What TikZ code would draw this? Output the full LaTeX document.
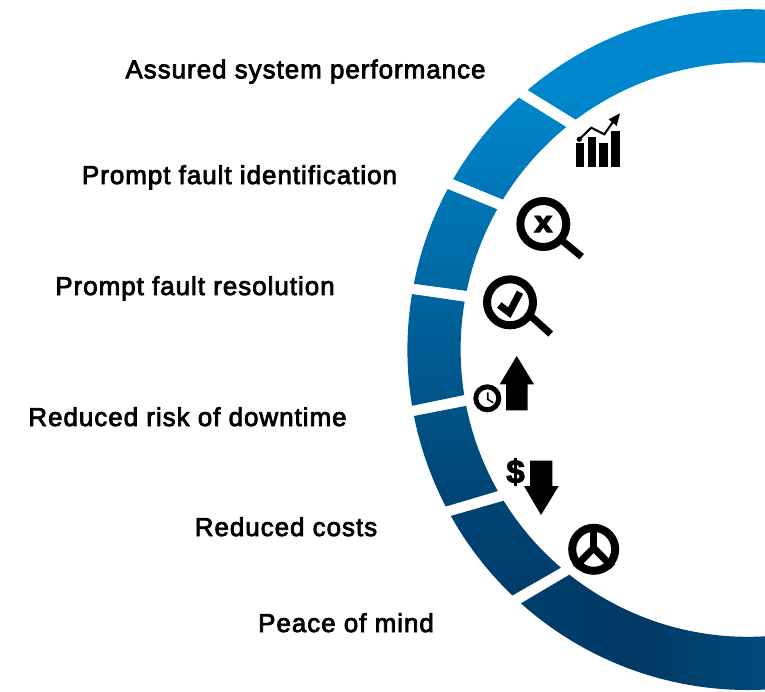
\documentclass[tikz,border=0pt]{standalone}
\usepackage{fontspec}
\setmainfont{Liberation Sans}
\newfontfamily\labfont[LetterSpace=3.9,RawFeature={embolden=3}]{Liberation Sans}
\newfontfamily\glyphfont[RawFeature={embolden=3}]{Liberation Sans Bold}
\newfontfamily\xfont[RawFeature={embolden=2}]{DejaVu Sans Bold}
\usetikzlibrary{calc}
\definecolor{cA}{HTML}{0088CF}
\definecolor{cB}{HTML}{0086CB}
\definecolor{cM}{HTML}{005C93}
\definecolor{cN}{HTML}{004475}
\definecolor{cD}{HTML}{00345F}
\definecolor{sL}{HTML}{003F6E}
\definecolor{sM}{HTML}{003864}
\definecolor{sR}{HTML}{004A7B}
\pgfdeclareverticalshading{ringshade}{100bp}{
  color(0bp)=(cD); color(25.8bp)=(cD); color(38.8bp)=(cN); color(49.7bp)=(cM); color(67.8bp)=(cB); color(75bp)=(cA); color(100bp)=(cA)}
\pgfdeclarehorizontalshading{lastshade}{100bp}{
  color(0bp)=(sL); color(25bp)=(sL); color(48bp)=(sM); color(75bp)=(sR); color(100bp)=(sR)}
\tikzset{
  lab/.style={font=\labfont\fontsize{25.9}{28}\selectfont, text=black, inner sep=0pt, anchor=base},
  inkline/.style={draw=black, line cap=butt, fill=none},
  inkfill/.style={fill=black, draw=none}
}
\newcommand{\ringseg}[4]{
  ($(747.8,349.6)+(-#1:340.4)$) arc[start angle=-#1, end angle=-#2, radius=340.4pt]
  -- ($(747.8,349.6)+(-#3:287.2)$) arc[start angle=-#3, end angle=-#4, radius=287.2pt] -- cycle
}
\begin{document}
\begin{tikzpicture}[x=1pt,y=1pt,yscale=-1]
\useasboundingbox (0,0) rectangle (765,691);
\begin{scope}
  \clip (0,0) rectangle (765,691);
  \begin{scope}
    \clip \ringseg{85}{130.3}{126.8}{85}
      \ringseg{132.25}{149.95}{148.5}{129.2}
      \ringseg{151.85}{168.85}{168.2}{150.75}
      \ringseg{170.6}{189.5}{189.1}{170.4}
      \ringseg{191.25}{207.45}{209.5}{191.3}
      \ringseg{209.25}{226.25}{229.4}{211.75};
    \shade[shading=ringshade] (300,0) rectangle (765,691);
  \end{scope}
  \begin{scope}
    \clip \ringseg{228.2}{275}{275}{231.6};
    \shade[shading=lastshade] (521,560) rectangle (765,691);
  \end{scope}
\end{scope}
% labels
\node[lab] (l1) at (305.5,78.3) {Assured system performance};
\node[lab] (l2) at (239.5,184) {Prompt fault identification};
\node[lab] (l3) at (195,295) {Prompt fault resolution};
\node[lab] (l4) at (187.5,426) {Reduced risk of downtime};
\node[lab] (l5) at (286,536) {Reduced costs};
\node[lab] (l6) at (346,632) {Peace of mind};
% chart icon
\fill[inkfill] (575.7,142.7) rectangle (584.3,166.9);
\fill[inkfill] (587.7,136.7) rectangle (596.3,166.9);
\fill[inkfill] (599.4,143.3) rectangle (608,166.9);
\fill[inkfill] (611,131.3) rectangle (619.6,166.9);
\fill[inkfill] (579.3,139.3) circle[radius=2.6];
\draw[inkline,line width=2.1pt] (579.3,139.3) -- (591.3,127.7) -- (604.3,134.3) -- (615,119);
\fill[inkfill] (620,113.3) -- (608.7,119.3) -- (616.7,126) -- cycle;
% magnifier x
\draw[inkline,line width=8pt] (543.3,224) circle[radius=23];
\draw[inkline,line width=7pt] (561,239.7) -- (581.7,256.7);
\node[inner sep=0pt,font=\xfont\fontsize{30}{30}\selectfont] (xmark) at (543.3,224) {x};
% magnifier check
\draw[inkline,line width=8pt] (510,302.3) circle[radius=23];
\draw[inkline,line width=7pt] (529,314.5) -- (550.7,334);
\draw[inkline,line width=7pt,miter limit=10] (499.3,305) -- (509.3,312.7) -- (520,292.3);
% clock + up arrow
\draw[inkline,line width=5pt] (487.3,398.3) circle[radius=11.5];
\draw[inkline,line width=1.6pt] (487.7,392.3) -- (487.7,399.3) -- (493.3,402.7);
\fill[inkfill] (516.7,356) -- (534,384.3) -- (527.7,384.3) -- (527.7,410.3) -- (506,410.3) -- (506,384.3) -- (499.7,384.3) -- cycle;
% dollar + down arrow
\node[inner sep=0pt,font=\glyphfont\fontsize{33}{33}\selectfont] (dollar) at (515.5,472) {\$};
\fill[inkfill] (530,460.7) -- (552.3,460.7) -- (552.3,486) -- (558.7,486) -- (541,515) -- (524,486) -- (530,486) -- cycle;
% peace
\draw[inkline,line width=8pt] (593.7,549.3) circle[radius=21.5];
\draw[inkline,line width=7.5pt] (593.7,528) -- (593.7,548);
\draw[inkline,line width=7pt] (575,567) -- (593.7,548) -- (612.4,567);
\end{tikzpicture}
\end{document}
